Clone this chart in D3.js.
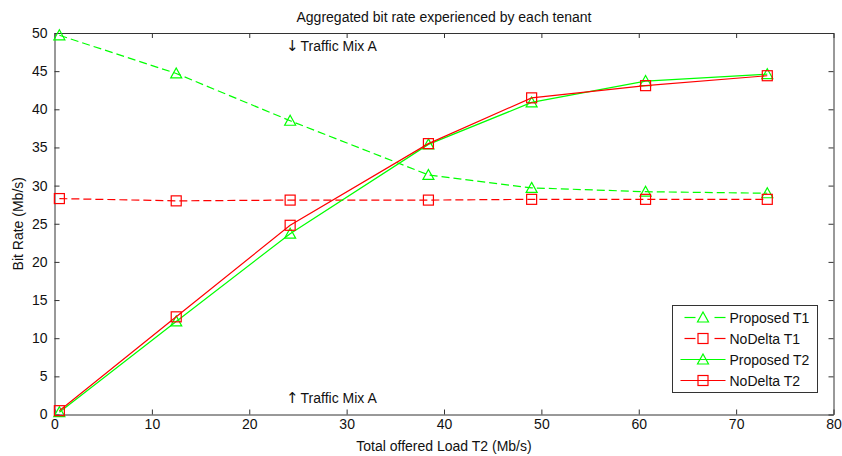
<!DOCTYPE html>
<html>
<head>
<meta charset="utf-8">
<script src="https://cdn.jsdelivr.net/npm/d3@7"></script>
<style>
  body { margin: 0; background: #fff; }
  text { font-family: "Liberation Sans", Arial, sans-serif; font-size: 14px; fill: #111; }
</style>
</head>
<body>
<div id="chart"></div>
<script>
// data
var loads = [0.5, 12.5, 24.2, 38.4, 49, 60.7, 73.2];
var proposedT1 = [49.7, 44.7, 38.5, 31.4, 29.7, 29.2, 29.0];
var noDeltaT1 = [28.3, 28.0, 28.1, 28.1, 28.2, 28.2, 28.2];
var proposedT2 = [0.3, 12.2, 23.7, 35.4, 40.9, 43.7, 44.6];
var noDeltaT2 = [0.5, 12.8, 24.8, 35.5, 41.5, 43.1, 44.4];
var xTicks = [0, 10, 20, 30, 40, 50, 60, 70, 80];
var yTicks = [0, 5, 10, 15, 20, 25, 30, 35, 40, 45, 50];

var series = [
  { name: "Proposed T1", values: proposedT1, color: "#00ff00", dash: "8,4", marker: "tri" },
  { name: "NoDelta T1", values: noDeltaT1, color: "#ff0000", dash: "8,4", marker: "sq" },
  { name: "Proposed T2", values: proposedT2, color: "#00ff00", dash: null, marker: "tri" },
  { name: "NoDelta T2", values: noDeltaT2, color: "#ff0000", dash: null, marker: "sq" }
];

var svgWidth = 842, svgHeight = 456;
var margin = { top: 33, right: 8.5, bottom: 41.5, left: 54.5 };
var width = svgWidth - margin.left - margin.right;
var height = svgHeight - margin.top - margin.bottom;

var svg = d3.select("#chart").append("svg")
  .attr("width", svgWidth)
  .attr("height", svgHeight);

var chartGroup = svg.append("g")
  .attr("transform", `translate(${margin.left}, ${margin.top})`);

var x = d3.scaleLinear().domain([0, 80]).range([0, width]);
var y = d3.scaleLinear().domain([0, 50]).range([height, 0]);

// axes, ticks pointing inwards on all four sides
var bottomAxis = d3.axisBottom(x).tickValues(xTicks).tickSizeInner(-5).tickSizeOuter(0).tickPadding(5);
var leftAxis = d3.axisLeft(y).tickValues(yTicks).tickSizeInner(-5).tickSizeOuter(0).tickPadding(7);
var topAxis = d3.axisTop(x).tickValues(xTicks).tickSizeInner(-5).tickSizeOuter(0).tickFormat("");
var rightAxis = d3.axisRight(y).tickValues(yTicks).tickSizeInner(-5).tickSizeOuter(0).tickFormat("");

chartGroup.append("g").attr("class", "axis").attr("transform", `translate(0, ${height})`).call(bottomAxis);
chartGroup.append("g").attr("class", "axis").call(leftAxis);
chartGroup.append("g").attr("class", "axis").call(topAxis);
chartGroup.append("g").attr("class", "axis").attr("transform", `translate(${width}, 0)`).call(rightAxis);

svg.selectAll(".axis .domain").attr("stroke", "#333");
svg.selectAll(".axis line").attr("stroke", "#333");
svg.selectAll(".axis text").attr("font-size", "14px").attr("fill", "#222")
  .attr("font-family", "Liberation Sans, Arial, sans-serif");

// marker shapes
function drawMarker(g, kind, color, cx, cy) {
  if (kind === "tri") {
    g.append("path")
      .attr("d", `M${cx},${cy - 5.5}L${cx + 5.5},${cy + 4.5}L${cx - 5.5},${cy + 4.5}Z`)
      .attr("fill", "none").attr("stroke", color).attr("stroke-width", 1.2);
  } else {
    g.append("rect")
      .attr("x", cx - 5).attr("y", cy - 5).attr("width", 10).attr("height", 10)
      .attr("fill", "none").attr("stroke", color).attr("stroke-width", 1.2);
  }
}

var line = d3.line().x(d => x(d[0])).y(d => y(d[1]));

series.forEach(s => {
  var pts = loads.map((l, i) => [l, s.values[i]]);
  chartGroup.append("path")
    .datum(pts)
    .attr("d", line)
    .attr("fill", "none")
    .attr("stroke", s.color)
    .attr("stroke-width", 1.2)
    .attr("stroke-dasharray", s.dash);
  var mg = chartGroup.append("g");
  pts.forEach(p => drawMarker(mg, s.marker, s.color, x(p[0]), y(p[1])));
});

// annotations (bigger arrow glyphs like the original)
function annot(yy, arrow) {
  var t = svg.append("text").attr("x", 286).attr("y", yy);
  t.append("tspan").attr("font-family", "DejaVu Sans, sans-serif").attr("font-size", "15px").text(arrow);
  t.append("tspan").attr("dx", 2).text("Traffic Mix A");
}
annot(51, "\u2193");
annot(403, "\u2191");

// title and axis labels
svg.append("text")
  .attr("x", margin.left + width / 2).attr("y", 22)
  .attr("text-anchor", "middle")
  .text("Aggregated bit rate experienced by each tenant");

svg.append("text")
  .attr("x", margin.left + width / 2).attr("y", 451)
  .attr("text-anchor", "middle")
  .text("Total offered Load T2 (Mb/s)");

svg.append("text")
  .attr("transform", "rotate(-90)")
  .attr("x", -(margin.top + height / 2)).attr("y", 23)
  .attr("text-anchor", "middle")
  .text("Bit Rate (Mb/s)");

// legend
var legend = svg.append("g").attr("transform", "translate(672.5, 305.5)");
legend.append("rect")
  .attr("width", 145).attr("height", 87)
  .attr("fill", "#fff").attr("stroke", "#333").attr("stroke-width", 1);

series.forEach((s, i) => {
  var ly = 12 + i * 21;
  var segs = s.dash ? [[12, 23], [42, 53]] : [[8, 53]];
  segs.forEach(sg => {
    legend.append("line")
      .attr("x1", sg[0]).attr("x2", sg[1]).attr("y1", ly).attr("y2", ly)
      .attr("stroke", s.color).attr("stroke-width", 1.2);
  });
  drawMarker(legend, s.marker, s.color, 30.5, ly);
  legend.append("text")
    .attr("x", 57).attr("y", ly + 5)
    .text(s.name);
});
</script>
</body>
</html>
